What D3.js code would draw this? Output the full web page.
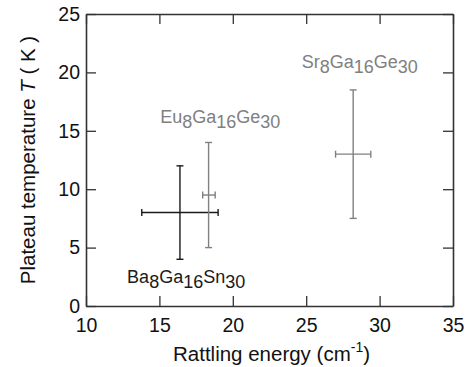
<!DOCTYPE html>
<html>
<head>
<meta charset="utf-8">
<script src="https://cdn.jsdelivr.net/npm/d3@7"></script>
<style>
body { margin: 0; background: #fff; }
text { font-family: "Liberation Sans", Arial, sans-serif; }
</style>
</head>
<body>
<div id="chart"></div>
<script>
// data
var compounds = ["Ba8Ga16Sn30", "Eu8Ga16Ge30", "Sr8Ga16Ge30"];
var energy = [16.4, 18.35, 28.2];      // cm^-1
var energyLo = [13.8, 17.95, 27.0];
var energyHi = [19.0, 18.8, 29.4];
var temp = [8, 9.5, 13];               // K
var tempLo = [4, 5, 7.5];
var tempHi = [12, 14, 18.5];
var xTicks = [10, 15, 20, 25, 30, 35];
var yTicks = [0, 5, 10, 15, 20, 25];

var colors = ["#1a1a1a", "#808080", "#808080"];
// label anchor (data coords) and name parts: [element, subscript] pairs
var labelPos = [[12.8, 1.94], [15.05, 15.7], [24.7, 20.35]];
var labelParts = [
  [["Ba", "8"], ["Ga", "16"], ["Sn", "30"]],
  [["Eu", "8"], ["Ga", "16"], ["Ge", "30"]],
  [["Sr", "8"], ["Ga", "16"], ["Ge", "30"]]
];

var margin = {top: 14, right: 18, bottom: 61, left: 86},
width = 471 - margin.left - margin.right,
height = 367 - margin.top - margin.bottom;

var svg = d3.select("#chart")
.append("svg")
.attr("width", 471)
.attr("height", 367)
.append("g")
.attr("transform", "translate(" + margin.left + "," + margin.top + ")");

var x = d3.scaleLinear().domain([10, 35]).range([0, width]);
var y = d3.scaleLinear().domain([0, 25]).range([height, 0]);

var axisColor = "#333";

// axes with inward ticks
var gx = svg.append("g")
.attr("transform", "translate(0," + height + ")")
.call(d3.axisBottom(x).tickValues(xTicks).tickSize(-10).tickPadding(12).tickSizeOuter(0));
var gy = svg.append("g")
.call(d3.axisLeft(y).tickValues(yTicks).tickSize(-10).tickPadding(6).tickSizeOuter(0));
var gt = svg.append("g")
.call(d3.axisTop(x).tickValues(xTicks).tickSize(-10).tickFormat("").tickSizeOuter(0));
var gr = svg.append("g")
.attr("transform", "translate(" + width + ",0)")
.call(d3.axisRight(y).tickValues(yTicks).tickSize(-10).tickFormat("").tickSizeOuter(0));

[gx, gy, gt, gr].forEach(function(g) {
  g.selectAll("path").attr("stroke", axisColor).attr("stroke-width", 1.6);
  g.selectAll("line").attr("stroke", axisColor).attr("stroke-width", 1.3);
  g.selectAll("text").attr("fill", "#111").style("font-size", "19.5px")
  .style("font-family", "Liberation Sans, Arial, sans-serif");
});

// error bars
var idx = d3.range(compounds.length);
var bars = svg.append("g").selectAll("g")
.data(idx)
.join("g")
.attr("stroke", function(i) { return colors[i]; })
.attr("stroke-width", 1.4)
.attr("fill", "none");

var cap = 3.5;
bars.append("line")
.attr("x1", function(i) { return x(energy[i]); })
.attr("x2", function(i) { return x(energy[i]); })
.attr("y1", function(i) { return y(tempLo[i]); })
.attr("y2", function(i) { return y(tempHi[i]); });
bars.append("line")
.attr("x1", function(i) { return x(energy[i]) - cap; })
.attr("x2", function(i) { return x(energy[i]) + cap; })
.attr("y1", function(i) { return y(tempLo[i]); })
.attr("y2", function(i) { return y(tempLo[i]); });
bars.append("line")
.attr("x1", function(i) { return x(energy[i]) - cap; })
.attr("x2", function(i) { return x(energy[i]) + cap; })
.attr("y1", function(i) { return y(tempHi[i]); })
.attr("y2", function(i) { return y(tempHi[i]); });
bars.append("line")
.attr("x1", function(i) { return x(energyLo[i]); })
.attr("x2", function(i) { return x(energyHi[i]); })
.attr("y1", function(i) { return y(temp[i]); })
.attr("y2", function(i) { return y(temp[i]); });
bars.append("line")
.attr("x1", function(i) { return x(energyLo[i]); })
.attr("x2", function(i) { return x(energyLo[i]); })
.attr("y1", function(i) { return y(temp[i]) - cap; })
.attr("y2", function(i) { return y(temp[i]) + cap; });
bars.append("line")
.attr("x1", function(i) { return x(energyHi[i]); })
.attr("x2", function(i) { return x(energyHi[i]); })
.attr("y1", function(i) { return y(temp[i]) - cap; })
.attr("y2", function(i) { return y(temp[i]) + cap; });

// compound labels with subscripts
idx.forEach(function(i) {
  var t = svg.append("text")
  .attr("x", x(labelPos[i][0]))
  .attr("y", y(labelPos[i][1]))
  .attr("fill", colors[i])
  .style("font-size", "18px");
  labelParts[i].forEach(function(p) {
    t.append("tspan").attr("dy", p === labelParts[i][0] ? 0 : -5).text(p[0]);
    t.append("tspan").attr("dy", 5).text(p[1]);
  });
});

// axis titles
var xt = svg.append("text")
.attr("x", width / 2 + 2)
.attr("y", height + 54.5)
.attr("text-anchor", "middle")
.attr("fill", "#111")
.style("font-size", "20.5px")
.text("Rattling energy (cm");
xt.append("tspan").attr("dy", -9).style("font-size", "14px").text("-1");
xt.append("tspan").attr("dy", 9).text(")");

var yt = svg.append("text")
.attr("transform", "translate(-51," + (height / 2) + ") rotate(-90)")
.attr("text-anchor", "middle")
.attr("fill", "#111")
.style("font-size", "20.5px");
yt.append("tspan").text("Plateau temperature ");
yt.append("tspan").style("font-style", "italic").text("T");
yt.append("tspan").text(" ( K )");
</script>
</body>
</html>
